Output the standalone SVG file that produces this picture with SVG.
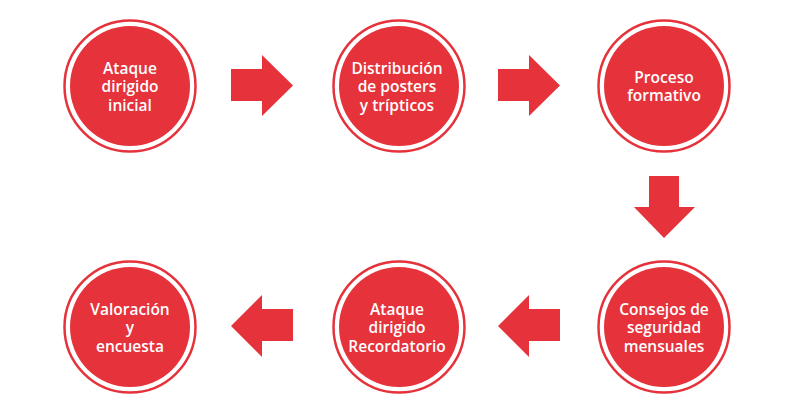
<svg xmlns="http://www.w3.org/2000/svg" width="800" height="417" viewBox="0 0 800 417">
<style>
.ring{fill:none;stroke:#E5323B;stroke-width:2.5}
.disc{fill:#E5323B}
.arr{fill:#E5323B}
text{font-family:"Open Sans","Liberation Sans",sans-serif;font-weight:600;font-size:15.5px;fill:#fff;text-anchor:middle}
</style>
<rect width="800" height="417" fill="#fff"/>
<g id="connectors">
<polygon class="arr" points="231,69 262,69 262,55 293,85.5 262,116 262,101 231,101"/>
<polygon class="arr" points="498,69 529,69 529,55 560,85.5 529,116 529,101 498,101"/>
<polygon class="arr" points="649,176 679,176 679,207 695,207 664,238 634,207 649,207"/>
<polygon class="arr" points="560,309 529,309 529,295 498,326 529,357 529,341 560,341"/>
<polygon class="arr" points="293,309 262,309 262,295 231,326 262,357 262,341 293,341"/>
</g>
<g id="n1">
<circle class="ring" cx="130" cy="86" r="65.5"/><circle class="disc" cx="130" cy="86" r="60"/>
<text x="130" y="73.5">Ataque</text><text x="130" y="92">dirigido</text><text x="130" y="110.5">inicial</text>
</g>
<g id="n2">
<circle class="ring" cx="399" cy="86" r="65.5"/><circle class="disc" cx="399" cy="86" r="60"/>
<text x="397" y="73.5">Distribución</text><text x="397" y="92">de posters</text><text x="397" y="110.5">y trípticos</text>
</g>
<g id="n3">
<circle class="ring" cx="664" cy="86" r="65.5"/><circle class="disc" cx="664" cy="86" r="60"/>
<text x="664" y="82.5">Proceso</text><text x="664" y="101">formativo</text>
</g>
<g id="n4">
<circle class="ring" cx="664" cy="327" r="65.5"/><circle class="disc" cx="664" cy="327" r="60"/>
<text x="664" y="314.5">Consejos de</text><text x="664" y="333">seguridad</text><text x="664" y="351.5">mensuales</text>
</g>
<g id="n5">
<circle class="ring" cx="399" cy="327" r="65.5"/><circle class="disc" cx="399" cy="327" r="60"/>
<text x="397" y="314.5">Ataque</text><text x="397" y="333">dirigido</text><text x="397" y="351.5">Recordatorio</text>
</g>
<g id="n6">
<circle class="ring" cx="130" cy="327" r="65.5"/><circle class="disc" cx="130" cy="327" r="60"/>
<text x="130" y="314.5">Valoración</text><text x="130" y="333">y</text><text x="130" y="351.5">encuesta</text>
</g>
</svg>
